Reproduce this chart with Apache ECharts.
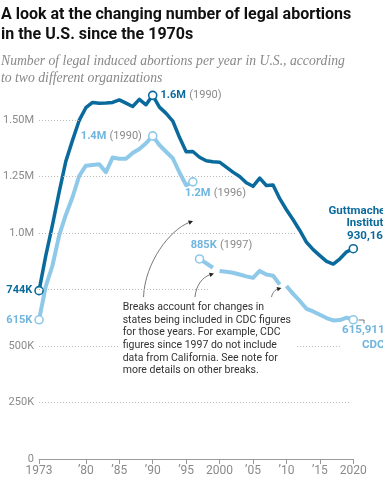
<!DOCTYPE html>
<html><head><meta charset="utf-8">
<script src="https://cdn.jsdelivr.net/npm/echarts@6/dist/echarts.min.js"></script>
<style>html,body{margin:0;padding:0;background:#fff}#c{width:383px;height:490px}</style>
</head><body><div id="c"></div>
<script>
// ---------- DATA ----------
const gYears = [1973,1974,1975,1976,1977,1978,1979,1980,1981,1982,1983,1984,1985,1986,1987,1988,1989,1990,1991,1992,1993,1994,1995,1996,1997,1998,1999,2000,2001,2002,2003,2004,2005,2006,2007,2008,2009,2010,2011,2012,2013,2014,2015,2016,2017,2018,2019,2020];
const guttmacher = [744610,898570,1034170,1179300,1316700,1409600,1497670,1553890,1577340,1573920,1575000,1577180,1588550,1574000,1559110,1590750,1567000,1608600,1556500,1528930,1495000,1423000,1359400,1360160,1335000,1319000,1314800,1312990,1291000,1269000,1250000,1222100,1206200,1242200,1209640,1212350,1151600,1102670,1058490,1011000,958700,926190,899500,874080,862320,885800,916460,930160];

const cdcYearsA = [1973,1974,1975,1976,1977,1978,1979,1980,1981,1982,1983,1984,1985,1986,1987,1988,1989,1990,1991,1992,1993,1994,1995,1996];
const cdcA = [615831,763476,854853,988267,1079430,1157776,1251921,1297606,1300760,1303980,1268987,1333521,1328570,1328112,1353671,1371285,1396658,1429247,1388937,1359146,1330414,1267415,1210883,1225937];
const cdcYearsB = [1997,1998,1999];
const cdcB = [885000,866000,846000];
const cdcYearsC = [2000,2001,2002,2003,2004,2005,2006,2007,2008,2009];
const cdcC = [832000,828000,824000,816000,808000,801000,832000,816000,811000,772000];
const cdcYearsD = [2010,2011,2012,2013,2014,2015,2016,2017,2018,2019,2020];
const cdcD = [765651,730322,699202,664435,652639,638169,623471,612719,614820,625346,615911];

const xTickValues = [1973,1980,1985,1990,1995,2000,2005,2010,2015,2020];
const xTickLabels = ['1973','’80','’85','’90','’95','2000','’05','’10','’15','2020'];
const yTickValues = [0,250000,500000,1000000,1250000,1500000];
const yTickLabels = ['0','250K','500K','1.0M','1.25M','1.50M'];

// ---------- STYLE ----------
const DARK = '#0b6a9c', LIGHT = '#8fc9e9', LIGHT_TXT = '#6fb5de', GRAY = '#8a8a8a';
const FONT = 'Roboto';

// gridline extents: [value, fromYear, toYear]
const gridSegs = [
  [250000, 1973, 2019.5],
  [500000, 1973, 1985.0],
  [500000, 2011.6, 2018.0],
  [750000, 1973, 1998.4],
  [1000000, 1973, 2011.6],
  [1250000, 1973, 2002.1],
  [1500000, 1973, 1979.4]
];

function pts(xs, ys){ return xs.map((x,i)=>[x, ys[i]]); }
function circ(color){ return {symbol:'circle', symbolSize:8, itemStyle:{color:'#fff', borderColor:color, borderWidth:1.6}}; }

const gData = pts(gYears, guttmacher).map((p,i)=>{
  const y = gYears[i];
  if (y === 1973) return Object.assign({value:p, label:{show:true, position:'left', distance:2, formatter:'744K', color:DARK, fontWeight:'bold', fontSize:11, fontFamily:FONT}}, circ(DARK));
  if (y === 1990) return Object.assign({value:p, label:{show:true, position:'right', distance:3, formatter:'{b|1.6M} {g|(1990)}', rich:{b:{color:DARK, fontWeight:'bold', fontSize:11, fontFamily:FONT}, g:{color:GRAY, fontSize:11, fontFamily:FONT}}}}, circ(DARK));
  if (y === 2020) return Object.assign({value:p, label:{show:true, position:[41,-2], align:'right', verticalAlign:'bottom', formatter:'Guttmacher\nInstitute\n930,160', color:DARK, fontWeight:'bold', fontSize:11.5, lineHeight:12.3, fontFamily:FONT}}, circ(DARK));
  return {value:p};
});

const aData = pts(cdcYearsA, cdcA).map((p,i)=>{
  const y = cdcYearsA[i];
  if (y === 1973) return Object.assign({value:p, label:{show:true, position:'left', distance:2, formatter:'615K', color:LIGHT_TXT, fontWeight:'bold', fontSize:11, fontFamily:FONT}}, circ(LIGHT));
  if (y === 1990) return Object.assign({value:p, label:{show:true, position:'left', distance:6, formatter:'{b|1.4M} {g|(1990)}', rich:{b:{color:LIGHT_TXT, fontWeight:'bold', fontSize:11, fontFamily:FONT}, g:{color:GRAY, fontSize:11, fontFamily:FONT}}}}, circ(LIGHT));
  if (y === 1996) return Object.assign({value:p, label:{show:true, position:[-3,16], align:'left', verticalAlign:'middle', formatter:'{b|1.2M} {g|(1996)}', rich:{b:{color:LIGHT_TXT, fontWeight:'bold', fontSize:11, fontFamily:FONT}, g:{color:GRAY, fontSize:11, fontFamily:FONT}}}}, circ(LIGHT));
  return {value:p};
});
const bData = pts(cdcYearsB, cdcB).map((p,i)=>{
  if (cdcYearsB[i] === 1997) return Object.assign({value:p, label:{show:true, position:[-4,-9], align:'left', verticalAlign:'middle', formatter:'{b|885K} {g|(1997)}', rich:{b:{color:LIGHT_TXT, fontWeight:'bold', fontSize:11, fontFamily:FONT}, g:{color:GRAY, fontSize:11, fontFamily:FONT}}}}, circ(LIGHT));
  return {value:p};
});
const cData = pts(cdcYearsC, cdcC).map(p=>({value:p}));
const dData = pts(cdcYearsD, cdcD).map((p,i)=>{
  if (cdcYearsD[i] === 2020) return Object.assign({value:p, label:{show:true, position:[36,8], align:'right', verticalAlign:'top', formatter:'615,911\nCDC', color:LIGHT_TXT, fontWeight:'bold', fontSize:11.5, lineHeight:15, fontFamily:FONT}}, circ(LIGHT));
  return {value:p};
});

function lineSeries(name, data, color, width, z){
  return {name, type:'line', data, z, symbol:'none', showSymbol:true, clip:false,
    lineStyle:{color, width, cap:'butt', join:'round'}, itemStyle:{color}, emphasis:{disabled:true}, silent:true};
}

function arrow(x1,y1,c1x,c1y,c2x,c2y,x2,y2){
  const a = Math.atan2(y2-c2y, x2-c2x), s = 4.5, w = 2.2;
  const bx = x2 - s*Math.cos(a), by = y2 - s*Math.sin(a);
  return [
    {type:'bezierCurve', shape:{x1,y1,x2:bx,y2:by,cpx1:c1x,cpy1:c1y,cpx2:c2x,cpy2:c2y}, style:{stroke:'#555', lineWidth:0.8, fill:null}, silent:true},
    {type:'polygon', shape:{points:[[x2,y2],[bx+w*Math.sin(a), by-w*Math.cos(a)],[bx-w*Math.sin(a), by+w*Math.cos(a)]]}, style:{fill:'#222'}, silent:true}
  ];
}

const chart = echarts.init(document.getElementById('c'), null, {renderer:'canvas'});
chart.setOption({
  animation:false,
  grid:{left:36.7, right:29.7, top:86, bottom:31},
  xAxis:{type:'value', min:1973, max:2020,
    axisLine:{show:true, onZero:false, lineStyle:{color:'#9a9a9a', width:1}},
    axisTick:{show:true, length:5, customValues:xTickValues, lineStyle:{color:'#9a9a9a'}},
    axisLabel:{customValues:xTickValues, formatter:v=>xTickLabels[xTickValues.indexOf(v)], color:GRAY, fontSize:12, fontFamily:FONT, margin:6},
    splitLine:{show:false}},
  yAxis:{type:'value', min:0, max:1650000,
    axisLine:{show:false}, axisTick:{show:false}, splitLine:{show:false},
    axisLabel:{customValues:yTickValues, formatter:v=>yTickLabels[yTickValues.indexOf(v)], color:GRAY, fontSize:11, fontFamily:FONT, margin:5}},
  series:[
    {type:'line', data:[[1973,0]], symbol:'none', lineStyle:{width:0}, z:1, silent:true,
      markLine:{symbol:['none','none'], silent:true, label:{show:false}, animation:false,
        lineStyle:{color:'#b9b9b9', width:1, type:[1,2]},
        emphasis:{disabled:true},
        data:gridSegs.map(s=>[{coord:[s[1],s[0]]},{coord:[s[2],s[0]]}])}},
    lineSeries('CDC A', aData, LIGHT, 4, 3),
    lineSeries('CDC B', bData, LIGHT, 4, 3),
    lineSeries('CDC C', cData, LIGHT, 4, 3),
    lineSeries('CDC D', dData, LIGHT, 4, 3),
    lineSeries('Guttmacher', gData, DARK, 3.5, 4)
  ],
  graphic:[
    {type:'text', left:1, top:5, style:{text:'A look at the changing number of legal abortions\nin the U.S. since the 1970s', font:'bold 16px Roboto', fill:'#111', lineHeight:20}},
    {type:'text', left:1, top:53, style:{text:'Number of legal induced abortions per year in U.S., according\nto two different organizations', font:'italic 13.7px "Liberation Serif"', fill:'#888', lineHeight:17}},
    {type:'text', x:122.7, y:301, style:{text:'Breaks account for changes in\nstates being included in CDC figures\nfor those years. For example, CDC\nfigures since 1997 do not include\ndata from California. See note for\nmore details on other breaks.', font:'10.5px Roboto', fill:'#333', lineHeight:12.7}},
    ...arrow(143.5,297, 145,262, 170,230, 193,221),
    ...arrow(195,297, 196,285, 203,277, 214,273.5),
    ...arrow(271.5,297, 272.5,292, 276,289.5, 281.5,288),
    {type:'polyline', shape:{points:[[358.5,320],[364,320],[364,323.5]]}, style:{stroke:'#555', lineWidth:0.8, fill:null}, silent:true}
  ]
});
</script>
</body></html>
